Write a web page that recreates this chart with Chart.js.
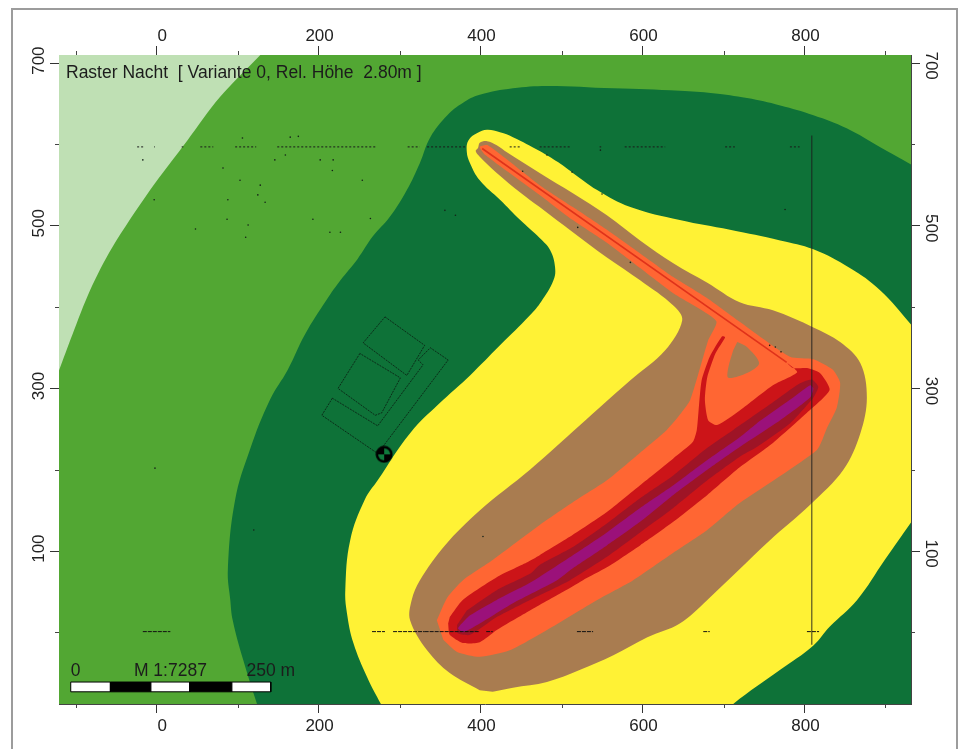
<!DOCTYPE html>
<html><head><meta charset="utf-8">
<style>
html,body{margin:0;padding:0;background:#fff;width:963px;height:749px;overflow:hidden}
#frame{position:absolute;left:11px;top:8px;width:943px;height:745px;border:2px solid #9c9c9c;box-sizing:content-box}
#c{position:absolute;left:0;top:0}
</style>
<script src="https://cdn.jsdelivr.net/npm/chart.js@4"></script>
</head><body>
<div id="frame"></div>
<canvas id="c" width="963" height="749" style="width:963px;height:749px"></canvas>
<script>
// Axis extents and ticks
const xMin=-120.5, xMax=931.5, yMin=-88, yMax=710;
const xTickValues=[-100,0,100,200,300,400,500,600,700,800,900];
const yTickValues=[0,100,200,300,400,500,600,700];
const xTickLabels=[0,200,400,600,800];
const yTickLabels=[100,300,500,700];

// Contour bands, outermost to innermost ([x, y] in metres)
const plotBox=[[-125,-92],[936,-92],[936,714],[-125,714]];
const midGreen=[[130,712],[78,658],[38,605],[-8,544],[-55,473],[-82,421],[-104,366],[-122,318],[-140,270],[-140,-120],[960,-120],[960,740],[150,740]];
const darkGreen=[[960,556],[932,575],[893,597],[852,620],[811,636],[770,648],[729,657],[687,663],[646,666],[564,669],[482,672],[440,669],[399,661],[378,651],[359,636],[338,609],[325,577],[309,544],[288,511],[267,487],[248,459],[227,433],[210,409],[183,366],[162,323],[140,286],[115,224],[97,163],[88,77],[91,40],[94,15],[107,-34],[124,-88],[135,-120],[960,-120]];
const yellow=[[278,-90],[260,-55],[243,-13],[235,24],[233,52],[239,113],[257,163],[273,187],[313,245],[354,286],[387,316],[424,353],[461,390],[475,407],[490,433],[492,449],[486,470],[473,485],[449,507],[424,532],[399,556],[387,577],[383,591],[385,605],[396,614],[408,618],[424,615],[440,609],[473,592],[496,578],[514,565],[544,544],[585,523],[646,507],[708,495],[770,482],[811,471],[856,448],[893,421],[932,378],[960,345],[960,175],[932,136],[899,89],[865,40],[831,7],[811,-16],[770,-46],[712,-88],[690,-110],[290,-110]];
const brown=[[399,-71],[362,-50],[334,-22],[313,15],[315,40],[325,64],[356,107],[399,150],[461,200],[523,255],[585,310],[628,347],[649,384],[638,402],[597,433],[556,461],[514,492],[473,523],[449,541],[420,565],[399,585],[394,592],[397,596],[399,602],[408,604],[420,599],[433,590],[473,565],[514,540],[556,513],[597,482],[638,454],[680,430],[720,406],[761,396],[811,375],[844,357],[869,331],[877,289],[869,245],[848,200],[807,157],[757,113],[680,40],[646,11],[606,-6],[564,-28],[523,-46],[482,-61],[440,-68],[415,-73]];
const orange=[[346,15],[359,43],[378,64],[415,89],[473,132],[514,160],[556,187],[597,221],[630,249],[648,270],[659,286],[675,339],[681,359],[691,383],[638,417],[597,448],[556,479],[514,507],[473,538],[406,587],[399,597],[409,599],[473,550],[514,523],[556,495],[597,466],[638,437],[680,411],[720,382],[782,339],[811,336],[835,323],[844,307],[840,277],[828,252],[815,224],[720,159],[680,126],[638,98],[588,64],[544,40],[482,3],[436,-22],[399,-30],[371,-24],[354,-9]];
const brownIsland=[[717,357],[729,351],[744,331],[729,319],[706,313],[706,326],[712,347]];
const red=[[360,11],[362,-3],[378,-13],[399,-12],[420,3],[461,27],[502,50],[526,64],[556,80],[597,107],[638,136],[680,169],[720,203],[761,233],[803,270],[831,298],[819,319],[803,325],[786,325],[778,332],[791,320],[761,304],[720,273],[692,255],[681,261],[677,286],[680,314],[690,343],[702,363],[698,364],[683,339],[673,310],[669,270],[667,249],[662,234],[638,214],[597,181],[556,148],[514,120],[473,95],[457,86],[420,68],[378,40],[362,19]];
const darkRed=[[371,9],[372,-1],[387,-3],[420,19],[461,40],[510,64],[556,93],[597,123],[638,153],[680,187],[720,216],[741,228],[782,257],[811,289],[817,302],[809,311],[794,306],[761,283],[712,249],[680,227],[638,193],[597,165],[556,134],[514,105],[473,83],[461,72],[420,52],[383,27]];
const purple=[[372,5],[378,0],[399,11],[440,36],[494,64],[514,79],[556,107],[597,136],[638,169],[680,200],[720,228],[770,261],[807,289],[811,300],[807,304],[782,286],[741,257],[720,240],[680,212],[638,181],[597,153],[556,123],[514,95],[461,61],[420,40],[387,21],[375,9]];
const armLine=[[402,595],[778,332]];
const measureLine=[[809,611],[809,-15]];

// Building outlines and the receiver mark
const buildingTop=[[282,388],[331,353],[309,316],[255,356],[282,388]];
const buildingMid=[[251,343],[224,300],[270,267],[278,270],[301,313],[251,343]];
const buildingOuter=[[217,288],[204,267],[273,220],[360,335],[338,350],[323,335],[329,329],[273,254],[217,288]];
const receiver=[[281,219]];

// Stray points and dashed runs on the two raster rows
const row600X=[[-24,-15],[-3,-2],[31,33],[54,70],[97,123],[149,270],[310,325],[334,381],[436,449],[473,511],[547,549],[578,628],[702,714],[782,794]];
const row600Y=597;
const row0X=[[-17,17],[266,282],[292,331],[331,399],[407,415],[519,539],[675,683],[803,818]];
const row0Y=1;
const strayDots=[[106,608],[165,609],[175,610],[-17,581],[146,581],[159,587],[202,581],[218,581],[217,568],[82,571],[254,556],[103,556],[128,550],[125,538],[134,529],[-3,532],[88,532],[113,501],[110,486],[48,496],[87,508],[193,508],[214,492],[227,492],[264,509],[369,513],[356,519],[482,587],[548,593],[513,566],[452,567],[550,539],[520,498],[776,520],[585,455],[403,118],[120,126],[-2,202],[757,353],[764,351],[771,345]];

// Scale bar
const scaleEdges=[-106,-57,-7,41,93,141];
const scaleFills=['#ffffff','#000000','#ffffff','#000000','#ffffff'];
const scaleTop=-61, scaleBottom=-73;
const scaleTexts=[['0',-106],['M 1:7287',-28],['250 m',111]];
const headText='Raster Nacht  [ Variante 0, Rel. Höhe  2.80m ]';

const pts=a=>a.map(p=>({x:p[0],y:p[1]}));
const band=(a,color,t)=>({data:pts(a),showLine:true,fill:'shape',backgroundColor:color,borderColor:color,borderWidth:0,pointRadius:0,tension:t,capBezierPoints:false});
const stroke=(a,color,w,dash)=>({data:pts(a),showLine:true,fill:false,borderColor:color,borderWidth:w,borderDash:dash||[],pointRadius:0,tension:0});
const runs=(list,y)=>{const out=[];list.forEach(r=>{out.push({x:r[0],y:y},{x:r[1],y:y},{x:r[1],y:null});});return out;};

// Receiver symbol
const mark=document.createElement('canvas');mark.width=18;mark.height=18;
(function(){const m=mark.getContext('2d');m.fillStyle='#000';m.beginPath();m.arc(9,9,8.5,0,Math.PI*2);m.fill();
m.fillStyle='#0f7a3c';m.beginPath();m.moveTo(9,9);m.arc(9,9,6,-Math.PI/2,0);m.fill();m.beginPath();m.moveTo(9,9);m.arc(9,9,6,Math.PI/2,Math.PI);m.fill();})();

const datasets=[
 band(plotBox,'#BFE0B4',0),
 band(midGreen,'#52A733',0.3),
 band(darkGreen,'#0E7238',0.4),
 band(yellow,'#FFF235',0.4),
 band(brown,'#A97C50',0.35),
 band(orange,'#FF6633',0.2),
 band(brownIsland,'#A97C50',0.3),
 band(red,'#CC1418',0.2),
 band(darkRed,'#9E1426',0.2),
 band(purple,'#9B117A',0.2),
 stroke(armLine,'#E0321A',1.6),
 stroke(measureLine,'rgba(30,30,30,0.75)',1.2),
 stroke(buildingTop,'#0a1a10',0.8,[2,1]),
 stroke(buildingMid,'#0a1a10',0.8,[2,1]),
 stroke(buildingOuter,'#0a1a10',0.8,[2,1]),
 {data:runs(row600X,row600Y),showLine:true,fill:false,spanGaps:false,borderColor:'#1a1a1a',borderWidth:1,borderDash:[2,2],pointRadius:0,tension:0},
 {data:runs(row0X,row0Y),showLine:true,fill:false,spanGaps:false,borderColor:'#111',borderWidth:1,borderDash:[4,1],pointRadius:0,tension:0},
 {data:pts(strayDots),showLine:false,backgroundColor:'#142018',borderWidth:0,pointRadius:0.8},
 {data:pts(receiver),showLine:false,pointStyle:mark,pointRadius:9}
];
scaleFills.forEach((c,i)=>{
 const a=scaleEdges[i],b=scaleEdges[i+1];
 datasets.push({data:pts([[a,scaleTop],[b,scaleTop],[b,scaleBottom],[a,scaleBottom],[a,scaleTop]]),showLine:true,fill:'shape',backgroundColor:c,borderColor:'#000',borderWidth:1,pointRadius:0,tension:0});
});
datasets.forEach((d,i)=>{d.order=datasets.length-i;});

const FONT='"Liberation Sans", Arial, sans-serif';
const tickFont={family:FONT,size:17};
const tickCol='#222';
const longTick=(labels)=>(ctx)=>labels.includes(ctx.tick.value)?'#333':'rgba(0,0,0,0)';
const xLabel=v=>v===0?'  0':(xTickLabels.includes(v)?String(v):'');
const yLabel=v=>yTickLabels.includes(v)?String(v):'';
const borderOpt={display:true,color:'#444',width:1};
const gridX={drawOnChartArea:false,drawTicks:true,tickLength:9,tickColor:longTick(xTickLabels),tickWidth:1};
const gridY={drawOnChartArea:false,drawTicks:true,tickLength:9,tickColor:longTick(yTickLabels),tickWidth:1};
const xBase={autoSkip:false,maxRotation:0,minRotation:0,font:tickFont,color:tickCol,callback:xLabel,labelOffset:1};
const yBase={autoSkip:false,font:tickFont,color:tickCol,callback:yLabel,crossAlign:'center'};
const setTicks=vals=>(s)=>{s.ticks=vals.map(v=>({value:v}));};
const fit=(prop,val)=>(s)=>{s[prop]=val;};

const annotate={id:'annotate',afterDatasetsDraw(ch){
 const c=ch.ctx,sx=ch.scales.x,sy=ch.scales.y;
 c.save();
 // short ticks on the unlabelled steps
 c.strokeStyle='#444';c.lineWidth=1;c.beginPath();
 xTickValues.forEach(v=>{if(!xTickLabels.includes(v)){const p=Math.round(sx.getPixelForValue(v))+0.5;
  c.moveTo(p,ch.chartArea.top);c.lineTo(p,ch.chartArea.top-4);c.moveTo(p,ch.chartArea.bottom);c.lineTo(p,ch.chartArea.bottom+4);}});
 yTickValues.forEach(v=>{if(!yTickLabels.includes(v)){const p=Math.round(sy.getPixelForValue(v))+0.5;
  c.moveTo(ch.chartArea.left,p);c.lineTo(ch.chartArea.left-4,p);c.moveTo(ch.chartArea.right,p);c.lineTo(ch.chartArea.right+4,p);}});
 c.stroke();
 // texts
 c.fillStyle='#1c1c1c';c.textBaseline='middle';c.textAlign='left';
 c.font='17.5px '+FONT;
 c.fillText(headText,66,73);
 scaleTexts.forEach(t=>{c.fillText(t[0],sx.getPixelForValue(t[1]),671);});
 c.restore();
}};

new Chart(document.getElementById('c'),{
 type:'scatter',
 data:{datasets},
 plugins:[annotate],
 options:{
  responsive:false,animation:false,devicePixelRatio:1,
  layout:{padding:0},
  plugins:{legend:{display:false},tooltip:{enabled:false},title:{display:false}},
  events:[],
  scales:{
   x:{type:'linear',position:'bottom',min:xMin,max:xMax,grid:gridX,border:borderOpt,ticks:Object.assign({},xBase,{padding:3}),afterBuildTicks:setTicks(xTickValues),afterFit:fit('height',45)},
   x2:{type:'linear',axis:'x',position:'top',min:xMin,max:xMax,grid:gridX,border:borderOpt,ticks:Object.assign({},xBase,{padding:-1}),afterBuildTicks:setTicks(xTickValues),afterFit:fit('height',55)},
   y:{type:'linear',position:'left',min:yMin,max:yMax,grid:gridY,border:borderOpt,ticks:Object.assign({},yBase,{padding:-3.5,minRotation:90,maxRotation:90,labelOffset:-2.5}),afterBuildTicks:setTicks(yTickValues),afterFit:fit('width',59)},
   y2:{type:'linear',axis:'y',position:'right',min:yMin,max:yMax,grid:gridY,border:borderOpt,ticks:Object.assign({},yBase,{padding:-3,minRotation:-90,maxRotation:-90,labelOffset:2.5}),afterBuildTicks:setTicks(yTickValues),afterFit:fit('width',52)}
  }
 }
});
</script>
</body></html>
